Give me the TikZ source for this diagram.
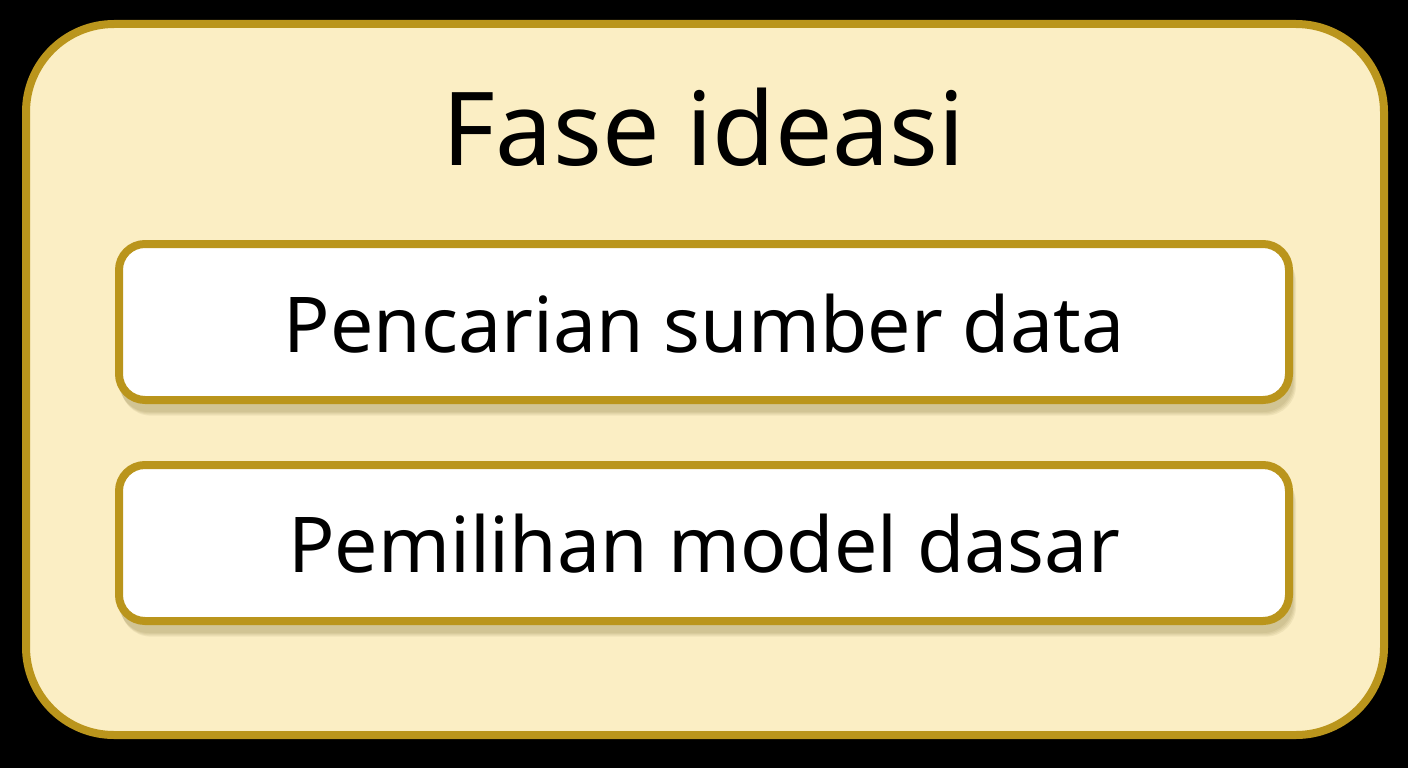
\documentclass[tikz,border=0pt]{standalone}
\usepackage{fontspec}
\setmainfont{Noto Sans}
\definecolor{gold}{HTML}{BA951C}
\definecolor{cream}{HTML}{FBEEC4}
\definecolor{shadowc}{HTML}{7A6A30}
\tikzset{
  outerbox/.style={draw=gold, line width=8pt, fill=cream, rounded corners=88pt},
  itembox/.style={draw=gold, line width=8pt, fill=white, rounded corners=26pt},
  softshadow/.style={fill=shadowc, rounded corners=30pt, opacity=0.09},
  itemtext/.style={font=\fontsize{77}{80}\selectfont, text=black, anchor=base},
  titletext/.style={font=\fontsize{102}{106}\selectfont, text=black, anchor=base}
}
\begin{document}
\begin{tikzpicture}[x=1pt,y=-1pt]
\fill[black] (0,0) rectangle (1408,768);
\useasboundingbox (0,0) rectangle (1408,768);
\draw[outerbox] (26,24) rectangle (1384,735);
\node[titletext] (title) at (704,165) {Fase ideasi};
% shadows
\foreach \d in {0,2,4,6}{
  \fill[softshadow] (119+\d*0.3,249+\d*0.5) rectangle (1293+\d*0.5,412+\d*0.6);
  \fill[softshadow] (119+\d*0.3,470+\d*0.5) rectangle (1293+\d*0.5,633+\d*0.6);
}
\draw[itembox] (119,244) rectangle (1289,400);
\draw[itembox] (119,465) rectangle (1289,621);
\node[itemtext] (a) at (704,352) {Pencarian sumber data};
\node[itemtext] (b) at (704,572) {Pemilihan model dasar};
\end{tikzpicture}
\end{document}
